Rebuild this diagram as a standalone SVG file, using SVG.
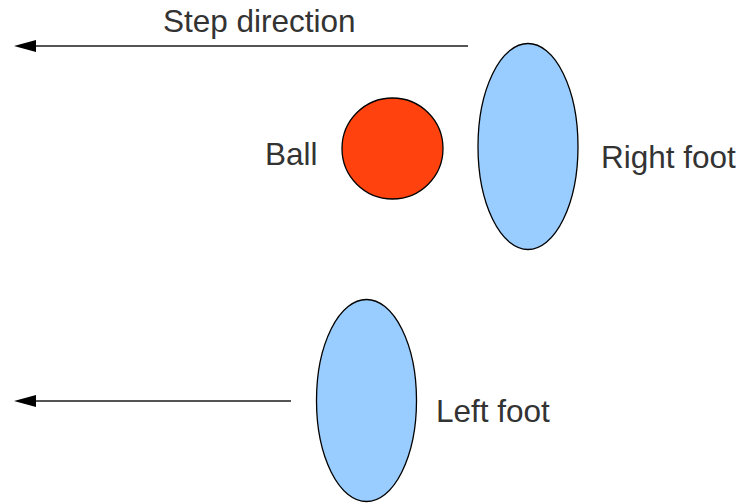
<svg xmlns="http://www.w3.org/2000/svg" width="744" height="504" viewBox="0 0 744 504">
<defs>
<style>
.lbl{font-family:"Liberation Sans",Arial,sans-serif;font-size:31.5px;fill:#333}
.foot{fill:#99ccff;stroke:#000;stroke-width:1.3}
.arr{stroke:#555;stroke-width:2;fill:none}
.head{fill:#000}
</style>
</defs>
<rect width="744" height="504" fill="#fff"/>
<g id="connectors">
<line class="arr" x1="468" y1="46" x2="36" y2="46"/>
<path class="head" d="M14,46 L36,40 L36,52 Z"/>
<line class="arr" x1="291" y1="401" x2="36" y2="401"/>
<path class="head" d="M14,401 L36,395 L36,407 Z"/>
</g>
<g id="step-label"><text class="lbl" x="163" y="32">Step direction</text></g>
<g id="ball">
<circle cx="392.5" cy="148.5" r="50.5" fill="#ff420e" stroke="#000" stroke-width="1.3"/>
<text class="lbl" x="265" y="165">Ball</text>
</g>
<g id="right-foot">
<ellipse class="foot" cx="528" cy="146.5" rx="50" ry="103"/>
<text class="lbl" x="601" y="168">Right foot</text>
</g>
<g id="left-foot">
<ellipse class="foot" cx="366.5" cy="400.5" rx="50" ry="101"/>
<text class="lbl" x="436" y="422">Left foot</text>
</g>
</svg>
